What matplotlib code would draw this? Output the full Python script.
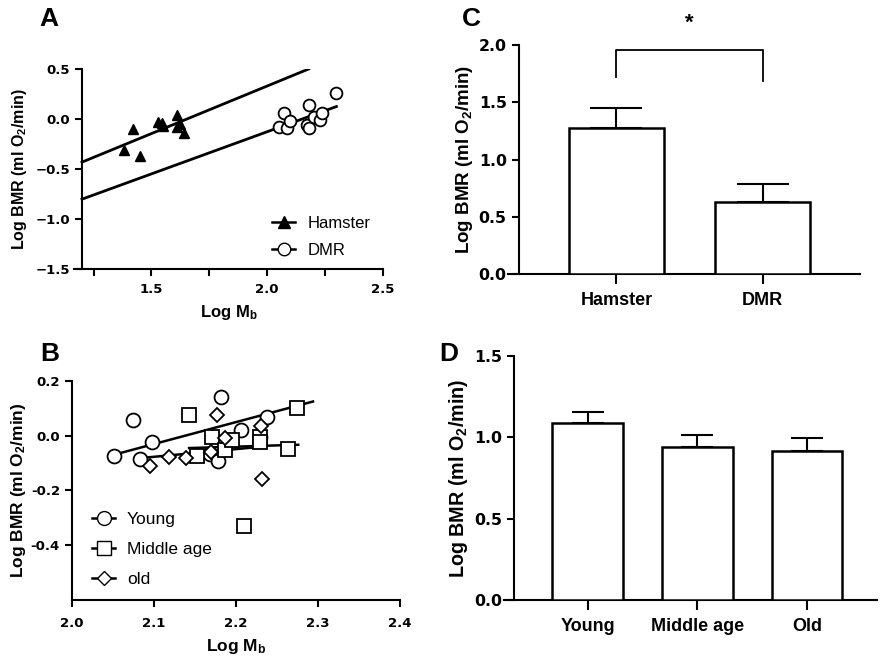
import numpy as np
import matplotlib
matplotlib.use('Agg')
from matplotlib import pyplot as plt
from matplotlib.lines import Line2D

plt.rcParams['font.family'] = ['Liberation Sans', 'DejaVu Sans']
plt.rcParams['font.weight'] = 'bold'
plt.rcParams['mathtext.fontset'] = 'custom'
plt.rcParams['mathtext.rm'] = 'Liberation Sans:bold'
plt.rcParams['mathtext.bf'] = 'Liberation Sans:bold'
plt.rcParams['mathtext.default'] = 'bf'

# panel A: hamster vs DMR
hamster_x = [1.38, 1.42, 1.45, 1.53, 1.545, 1.55, 1.61, 1.61, 1.625, 1.64]
hamster_y = [-0.31, -0.10, -0.37, -0.03, -0.04, -0.07, 0.04, -0.08, -0.05, -0.14]
dmr_x = [2.05, 2.075, 2.085, 2.10, 2.18, 2.172, 2.18, 2.205, 2.23, 2.237, 2.298]
dmr_y = [-0.08, 0.06, -0.09, -0.02, 0.14, -0.06, -0.09, 0.02, -0.005, 0.06, 0.26]
hamster_fit_x = [1.2, 2.18]
hamster_fit_y = [-0.43, 0.50]
dmr_fit_x = [1.2, 2.30]
dmr_fit_y = [-0.80, 0.125]

# panel B: DMR age groups
young_x = [2.051, 2.075, 2.083, 2.098, 2.169, 2.178, 2.182, 2.206, 2.229, 2.238]
young_y = [-0.073, 0.058, -0.084, -0.023, -0.066, -0.091, 0.141, 0.022, -0.005, 0.070]
middle_x = [2.143, 2.153, 2.171, 2.187, 2.195, 2.210, 2.229, 2.229, 2.264, 2.274]
middle_y = [0.077, -0.073, -0.005, -0.053, -0.015, -0.330, -0.005, -0.022, -0.047, 0.101]
old_x = [2.095, 2.119, 2.139, 2.170, 2.177, 2.187, 2.231, 2.232]
old_y = [-0.112, -0.079, -0.081, -0.061, 0.077, -0.008, 0.034, -0.157]
young_fit_x = [2.047, 2.294]
young_fit_y = [-0.073, 0.125]
middle_fit_x = [2.143, 2.276]
middle_fit_y = [-0.045, -0.033]
old_fit_x = [2.093, 2.232]
old_fit_y = [-0.079, -0.040]

# panel C: mean BMR
species = ['Hamster', 'DMR']
species_mean = [1.278, 0.626]
species_err = [0.175, 0.160]

# panel D: mean BMR by age
ages = ['Young', 'Middle age', 'Old']
age_mean = [1.086, 0.943, 0.918]
age_err = [0.070, 0.071, 0.076]

ylab = 'Log BMR (ml O$_2$/min)'
xlab = 'Log M$_b$'


def style(ax, num_size, axes_numeric='both'):
    for s in ['top', 'right']:
        ax.spines[s].set_visible(False)
    for s in ['left', 'bottom']:
        ax.spines[s].set_linewidth(1.5)
    ax.tick_params(direction='out', width=1.5, length=5)
    labs = ax.get_yticklabels()
    if axes_numeric == 'both':
        labs = labs + ax.get_xticklabels()
    for lab in labs:
        lab.set_fontfamily('DejaVu Sans')
        lab.set_fontweight('bold')
        lab.set_fontsize(num_size)


fig = plt.figure(figsize=(8.85, 6.62), dpi=100)

# A
axA = fig.add_axes([0.084, 0.5932, 0.3484, 0.3026])
axA.plot(hamster_fit_x, hamster_fit_y, color='black', lw=2)
axA.plot(dmr_fit_x, dmr_fit_y, color='black', lw=2)
axA.plot(hamster_x, hamster_y, '^', color='black', ms=7.5, ls='none')
axA.plot(dmr_x, dmr_y, 'o', mfc='white', mec='black', mew=1.3, ms=8.5, ls='none')
axA.set_xlim(1.167, 2.5)
axA.set_ylim(-1.5, 0.5)
axA.spines['left'].set_position(('data', 1.2))
axA.set_xticks([1.25, 1.5, 1.75, 2.0, 2.25, 2.5])
axA.set_xticklabels(['', '1.5', '', '2.0', '', '2.5'])
axA.set_yticks([-1.5, -1.0, -0.5, 0.0, 0.5])
style(axA, 9.5)
axA.tick_params(axis='x', pad=5)
axA.set_xlabel(xlab, fontsize=12, fontweight='bold', labelpad=5)
axA.set_ylabel(ylab, fontsize=11.5, fontweight='bold', labelpad=5)
handles = [Line2D([], [], color='black', lw=1.8, marker='^', ms=8),
           Line2D([], [], color='black', lw=1.8, marker='o', mfc='white', ms=9)]
legA = axA.legend(handles, ['Hamster', 'DMR'], loc='lower right', frameon=False,
                  handlelength=1.4, fontsize=12, bbox_to_anchor=(1.01, -0.02),
                  labelspacing=0.75, handletextpad=0.75)
for t in legA.get_texts():
    t.set_fontweight('normal')

# B
axB = fig.add_axes([0.081, 0.0937, 0.371, 0.3308])
axB.plot(young_fit_x, young_fit_y, color='black', lw=1.8)
axB.plot(middle_fit_x, middle_fit_y, color='black', lw=1.8)
axB.plot(old_fit_x, old_fit_y, color='black', lw=1.8)
axB.plot(young_x, young_y, 'o', mfc='white', mec='black', mew=1.3, ms=10, ls='none')
axB.plot(middle_x, middle_y, 's', mfc='white', mec='black', mew=1.3, ms=9.5, ls='none')
axB.plot(old_x, old_y, 'D', mfc='white', mec='black', mew=1.3, ms=7, ls='none')
axB.set_xlim(2.0, 2.4)
axB.set_ylim(-0.6, 0.2)
axB.set_xticks([2.0, 2.1, 2.2, 2.3, 2.4])
axB.set_xticklabels(['2.0', '2.1', '2.2', '2.3', '2.4'])
axB.set_yticks([-0.4, -0.2, 0.0, 0.2])
axB.set_yticklabels(['-0.4', '-0.2', '0.0', '0.2'])
style(axB, 9.5)
axB.tick_params(axis='x', pad=7)
axB.set_xlabel(xlab, fontsize=12.5, fontweight='bold', labelpad=5)
axB.set_ylabel(ylab, fontsize=12.5, fontweight='bold', labelpad=2)
handles = [Line2D([], [], color='black', lw=1.8, marker='o', mfc='white', ms=10),
           Line2D([], [], color='black', lw=1.8, marker='s', mfc='white', ms=9.5),
           Line2D([], [], color='black', lw=1.8, marker='D', mfc='white', ms=7)]
legB = axB.legend(handles, ['Young', 'Middle age', 'old'], loc='lower left', frameon=False,
                  handlelength=1.3, fontsize=12.5, bbox_to_anchor=(0.015, -0.012),
                  labelspacing=0.85, handletextpad=0.7)
for t in legB.get_texts():
    t.set_fontweight('normal')

# C
axC = fig.add_axes([0.574, 0.5861, 0.3978, 0.3459])
posC = np.arange(len(species))
axC.bar(posC, species_mean, width=0.65, color='white', edgecolor='black', lw=1.8, zorder=3)
axC.errorbar(posC, species_mean, yerr=[[0, 0], species_err], fmt='none', ecolor='black',
             elinewidth=1.5, capsize=19, capthick=1.5, zorder=2)
axC.set_xlim(-0.74, 1.665)
axC.spines['left'].set_position(('data', -0.668))
axC.set_ylim(0, 2.0)
axC.set_xticks(posC)
axC.set_xticklabels(species, fontsize=13)
axC.set_yticks([0.0, 0.5, 1.0, 1.5, 2.0])
style(axC, 11.3, axes_numeric='y')
axC.tick_params(axis='x', length=7, pad=6)
axC.set_ylabel(ylab, fontsize=13.5, fontweight='bold', labelpad=3)
axC.plot([0, 0, 1, 1], [1.72, 1.956, 1.956, 1.69], color='black', lw=1.3, clip_on=False)
axC.text(0.5, 2.1, '*', ha='center', va='bottom', fontsize=16, fontweight='bold')

# D
axD = fig.add_axes([0.570, 0.0937, 0.4206, 0.3686])
posD = np.arange(len(ages))
axD.bar(posD, age_mean, width=0.645, color='white', edgecolor='black', lw=1.8, zorder=3)
axD.errorbar(posD, age_mean, yerr=[[0, 0, 0], age_err], fmt='none', ecolor='black',
             elinewidth=1.5, capsize=11.5, capthick=1.5, zorder=2)
axD.set_xlim(-0.76, 2.636)
axD.spines['left'].set_position(('data', -0.676))
axD.set_ylim(0, 1.5)
axD.set_xticks(posD)
axD.set_xticklabels(ages, fontsize=13)
axD.set_yticks([0.0, 0.5, 1.0, 1.5])
style(axD, 11.3, axes_numeric='y')
axD.tick_params(axis='x', length=7, pad=6)
axD.set_ylabel(ylab, fontsize=14.2, fontweight='bold', labelpad=3)

# panel letters
fig.text(0.044, 0.99, 'A', fontsize=19, fontweight='bold', va='top')
fig.text(0.046, 0.484, 'B', fontsize=19, fontweight='bold', va='top')
fig.text(0.522, 0.99, 'C', fontsize=19, fontweight='bold', va='top')
fig.text(0.496, 0.484, 'D', fontsize=19, fontweight='bold', va='top')

fig.savefig('out.png', dpi=100)
